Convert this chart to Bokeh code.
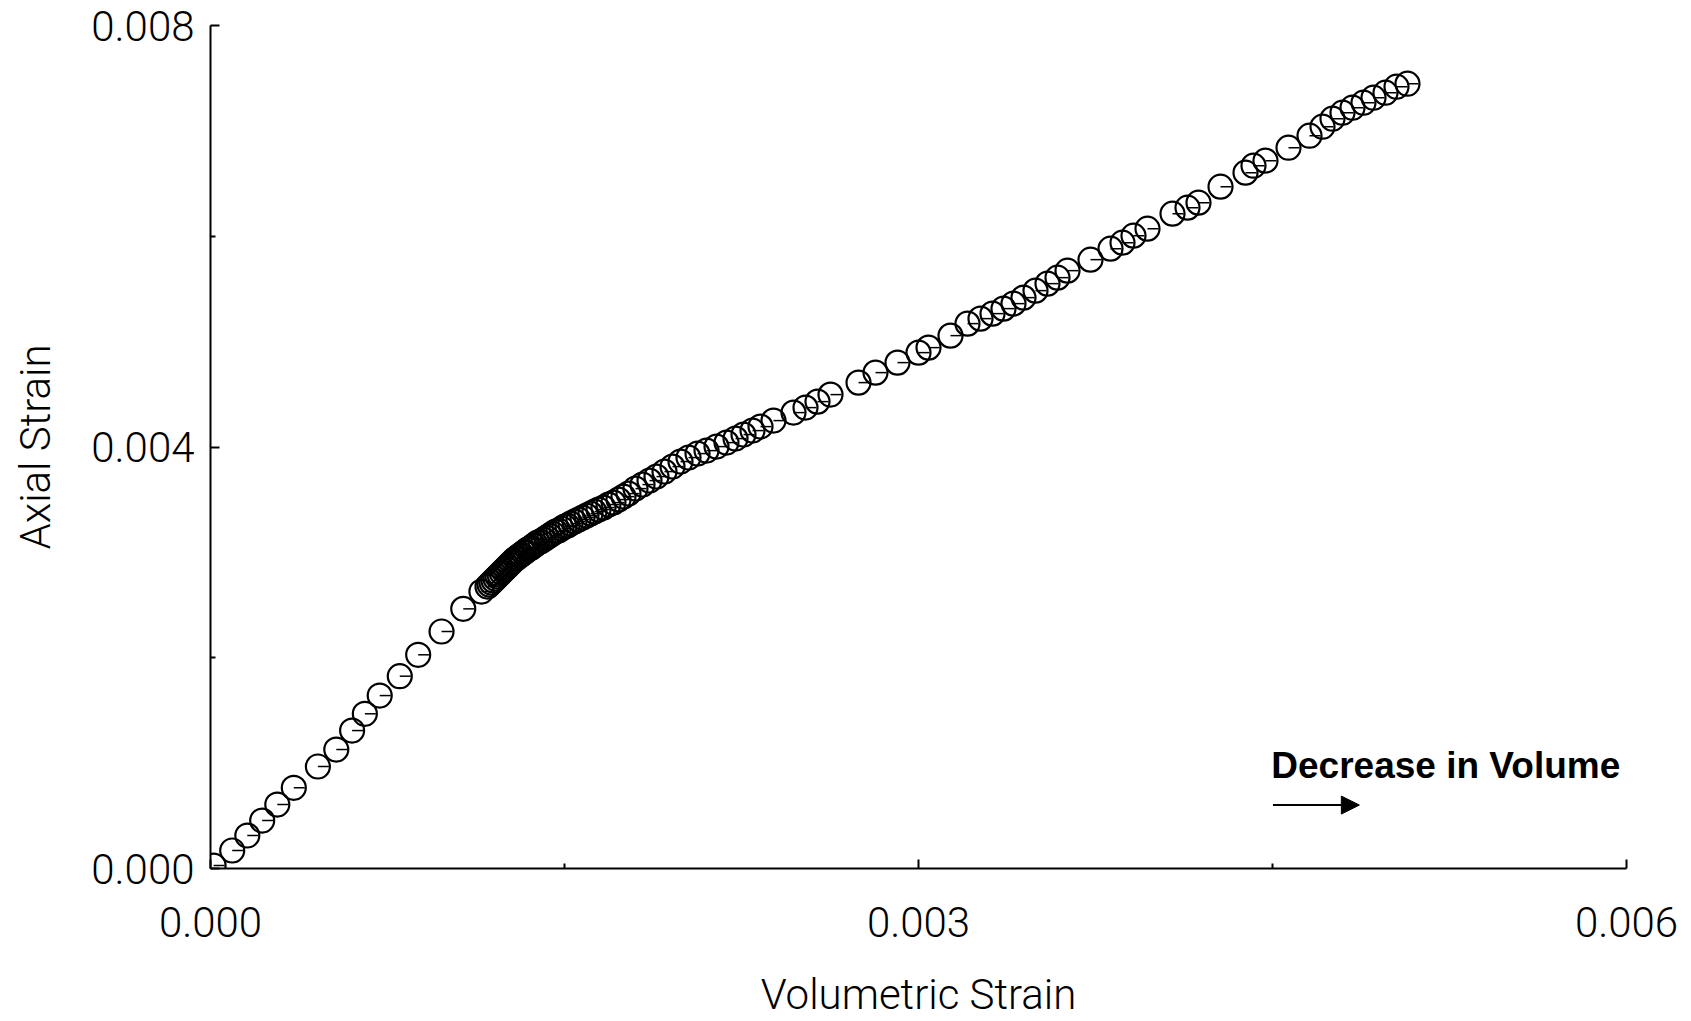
from bokeh.plotting import figure
from bokeh.models import Range1d, FixedTicker, PrintfTickFormatter, Arrow, NormalHead, Label
from bokeh.embed import file_html
from bokeh.resources import INLINE

# Volumetric strain (x) and axial strain (y)
vol_strain = [
    0.0000130, 0.0000920, 0.0001560, 0.0002190, 0.0002830, 0.0003530, 0.0004550, 0.0005330,
    0.0006000, 0.0006540, 0.0007170, 0.0008020, 0.0008800, 0.0009790, 0.0010710, 0.0011480,
    0.0011737, 0.0011822, 0.0011907, 0.0011992, 0.0012076, 0.0012161, 0.0012246, 0.0012331, 0.0012415, 0.0012500,
    0.0012585, 0.0012669, 0.0012754, 0.0012839, 0.0012924, 0.0013008, 0.0013093, 0.0013178, 0.0013263, 0.0013347,
    0.0013432, 0.0013517, 0.0013602, 0.0013686, 0.0013771, 0.0013856, 0.0013983, 0.0014110, 0.0014237, 0.0014364,
    0.0014492, 0.0014619, 0.0014746, 0.0014873, 0.0015000, 0.0015127, 0.0015254, 0.0015424, 0.0015593, 0.0015763,
    0.0015932, 0.0016102, 0.0016271, 0.0016441, 0.0016653, 0.0016864, 0.0017076, 0.0017288, 0.0017500, 0.0017712,
    0.0018008, 0.0018305, 0.0018602, 0.0018898, 0.0019237, 0.0019576, 0.0019915, 0.0020254, 0.0020636, 0.0021017,
    0.0021441, 0.0021864, 0.0022246, 0.0022585, 0.0022966, 0.0023305, 0.0023856, 0.0024703, 0.0025212, 0.0025720,
    0.0026271, 0.0027458, 0.0028178, 0.0029110, 0.0030000, 0.0030424, 0.0031356, 0.0032076, 0.0032627, 0.0033136,
    0.0033602, 0.0034025, 0.0034449, 0.0034958, 0.0035466, 0.0035890, 0.0036314, 0.0037288, 0.0038136, 0.0038644,
    0.0039110, 0.0039703, 0.0040763, 0.0041398, 0.0041864, 0.0042797, 0.0043856, 0.0044195, 0.0044703, 0.0045678,
    0.0046568, 0.0047119, 0.0047542, 0.0047966, 0.0048390, 0.0048856, 0.0049280, 0.0049788, 0.0050254, 0.0050720,
]
axial_strain = [
    0.0000280, 0.0001710, 0.0003130, 0.0004550, 0.0006070, 0.0007660, 0.0009680, 0.0011290,
    0.0013090, 0.0014680, 0.0016410, 0.0018250, 0.0020280, 0.0022490, 0.0024640, 0.0026280,
    0.0026755, 0.0026945, 0.0027135, 0.0027324, 0.0027514, 0.0027704, 0.0027894, 0.0028083, 0.0028273, 0.0028463,
    0.0028653, 0.0028843, 0.0029032, 0.0029222, 0.0029412, 0.0029507, 0.0029696, 0.0029791, 0.0029981, 0.0030076,
    0.0030266, 0.0030361, 0.0030455, 0.0030645, 0.0030740, 0.0030930, 0.0031025, 0.0031214, 0.0031404, 0.0031594,
    0.0031784, 0.0031973, 0.0032068, 0.0032258, 0.0032448, 0.0032543, 0.0032732, 0.0032922, 0.0033112, 0.0033302,
    0.0033491, 0.0033681, 0.0033871, 0.0034061, 0.0034250, 0.0034535, 0.0034725, 0.0035009, 0.0035294, 0.0035579,
    0.0036053, 0.0036433, 0.0036812, 0.0037192, 0.0037666, 0.0038140, 0.0038615, 0.0038994, 0.0039374, 0.0039658,
    0.0040038, 0.0040417, 0.0040797, 0.0041176, 0.0041556, 0.0041935, 0.0042505, 0.0043264, 0.0043738, 0.0044307,
    0.0044972, 0.0046110, 0.0047059, 0.0048008, 0.0048956, 0.0049431, 0.0050569, 0.0051708, 0.0052182, 0.0052657,
    0.0053131, 0.0053605, 0.0054175, 0.0054839, 0.0055503, 0.0056072, 0.0056736, 0.0057780, 0.0058824, 0.0059393,
    0.0060057, 0.0060721, 0.0062144, 0.0062713, 0.0063188, 0.0064706, 0.0066034, 0.0066698, 0.0067173, 0.0068406,
    0.0069545, 0.0070398, 0.0071157, 0.0071727, 0.0072201, 0.0072676, 0.0073150, 0.0073624, 0.0074194, 0.0074478,
]

x_ticks = [0.0, 0.003, 0.006]
x_minor_ticks = [0.0015, 0.0045]
y_ticks = [0.0, 0.004, 0.008]
y_minor_ticks = [0.002, 0.006]

x_title = "Volumetric Strain"
y_title = "Axial Strain"
note_text = "Decrease in Volume"

LIGHT = "'Roboto Light', Roboto"

p = figure(width=1691, height=1021, output_backend="svg", toolbar_location=None,
           x_range=Range1d(0, 0.006), y_range=Range1d(0, 0.008),
           min_border_left=210, min_border_right=65, min_border_top=25, min_border_bottom=153)
p.outline_line_color = None
p.grid.visible = False
p.background_fill_color = "white"
p.border_fill_color = "white"

p.xaxis.ticker = FixedTicker(ticks=x_ticks, minor_ticks=x_minor_ticks)
p.yaxis.ticker = FixedTicker(ticks=y_ticks, minor_ticks=y_minor_ticks)
for ax in (p.xaxis, p.yaxis):
    ax.formatter = PrintfTickFormatter(format="%.3f")
    ax.axis_line_width = 2
    ax.axis_line_color = "black"
    ax.major_tick_in = 9
    ax.major_tick_out = 0
    ax.minor_tick_in = 5
    ax.minor_tick_out = 0
    ax.major_tick_line_width = 2
    ax.minor_tick_line_width = 2
    ax.major_tick_line_color = "black"
    ax.minor_tick_line_color = "black"
    ax.major_label_text_font = LIGHT
    ax.major_label_text_font_size = "42px"
    ax.major_label_text_color = "black"
    ax.axis_label_text_font = LIGHT
    ax.axis_label_text_font_size = "42px"
    ax.axis_label_text_font_style = "normal"
    ax.axis_label_text_color = "black"

p.xaxis.axis_label = x_title
p.yaxis.axis_label = y_title
p.xaxis.major_label_standoff = 38
p.xaxis.axis_label_standoff = 30
p.yaxis.major_label_standoff = 16
p.yaxis.axis_label_standoff = 28

p.scatter(vol_strain, axial_strain, marker="circle", size=24, fill_color=None,
          line_color="black", line_width=2.2)
p.ray(vol_strain, axial_strain, length=11, length_units="screen", angle=0,
      line_color="black", line_width=1.5)

p.add_layout(Arrow(x_start=0.004502, y_start=0.000602, x_end=0.004868, y_end=0.000602,
                   line_width=2, line_color="black",
                   end=NormalHead(size=18, fill_color="black", line_color="black")))
p.add_layout(Label(x=0.004495, y=0.000981, text=note_text, text_font="Liberation Sans",
                   text_font_style="bold", text_font_size="37px", text_color="black",
                   text_baseline="alphabetic"))

open("out.html", "w").write(file_html(p, INLINE))
